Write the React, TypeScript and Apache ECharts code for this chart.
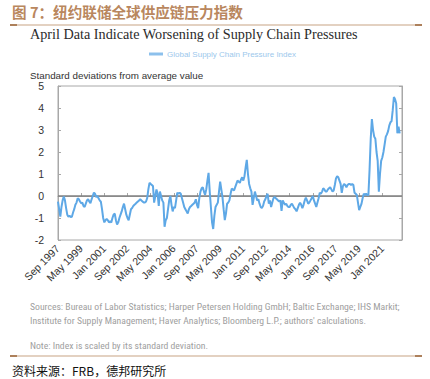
import React, { useEffect, useRef } from "react";
import * as echarts from "echarts";

// Monthly Global Supply Chain Pressure Index, Sep 1997 – Apr 2022
const values1997 = [-0.26, -0.6, -0.94, -0.5];
const values1998 = [-0.2, -0.03, -0.2, -0.55, -0.85, -0.94, -0.9, -0.95, -0.94, -0.75, -0.6, -0.4];
const values1999 = [-0.3, -0.1, -0.15, -0.25, -0.33, -0.3, -0.45, -0.5, -0.35, -0.2, -0.14, -0.25];
const values2000 = [-0.33, -0.15, 0.0, 0.15, 0.1, -0.05, 0.0, -0.1, -0.2, -0.26, -0.6, -1.0];
const values2001 = [-1.2, -1.1, -1.05, -1.1, -1.2, -1.15, -1.2, -1.0, -0.85, -0.8, -1.1, -1.3];
const values2002 = [-1.2, -1.0, -0.85, -0.7, -0.5, -0.35, -0.6, -0.85, -1.0, -1.1, -0.85, -0.6];
const values2003 = [-0.55, -0.45, -0.4, -0.35, -0.3, -0.25, -0.2, -0.15, -0.2, -0.25, -0.3, -0.3];
const values2004 = [-0.25, -0.1, 0.3, 0.6, 0.55, 0.5, 0.45, -0.3, 0.0, 0.3, 0.1, -0.45];
const values2005 = [0.2, 0.0, -0.2, -0.3, -1.4, -1.1, -1.0, -0.6, -0.2, 0.0, -0.4, -0.7];
const values2006 = [-0.5, -0.55, -0.2, 0.15, 0.1, 0.15, 0.1, -0.1, -0.3, -0.5, -0.6, -0.7];
const values2007 = [-0.8, -0.6, -0.5, -0.45, -0.4, -0.35, -0.3, -0.15, -0.4, -0.55, -0.1, 0.2];
const values2008 = [0.35, 0.4, 0.2, 0.05, 0.3, 0.7, 1.05, 0.2, -0.5, -1.2, -1.5, -0.9];
const values2009 = [-0.5, -0.4, -0.3, 0.2, 0.65, 0.3, -0.05, -0.6, -1.1, -0.8, -0.35, -0.3];
const values2010 = [-0.2, 0.1, 0.33, 0.3, 0.25, 0.4, 0.55, 0.7, 0.65, 0.6, 0.75, 0.85];
const values2011 = [0.7, 0.9, 1.3, 1.64, 1.0, 0.55, 0.35, 0.2, -0.4, -0.1, 0.2, 0.0];
const values2012 = [-0.2, -0.15, -0.35, -0.5, -0.55, -0.45, -0.25, -0.15, 0.0, 0.1, -0.35, -0.2];
const values2013 = [-0.5, -0.3, -0.1, -0.05, -0.1, -0.15, -0.2, -0.25, -0.2, -0.68, -0.2, -0.3];
const values2014 = [-0.4, -0.35, -0.45, -0.5, -0.5, -0.4, -0.35, -0.45, -0.55, -0.6, -0.7, -0.55];
const values2015 = [-0.4, -0.3, -0.4, -0.55, -0.4, -0.2, -0.07, -0.2, -0.35, -0.3, -0.2, -0.1];
const values2016 = [0.0, -0.2, -0.35, -0.5, -0.3, -0.1, 0.15, 0.1, 0.2, 0.35, 0.3, 0.2];
const values2017 = [0.2, 0.3, 0.35, 0.4, 0.3, 0.2, 0.25, 0.5, 0.8, 0.9, 0.85, 0.7];
const values2018 = [0.55, 0.14, 0.45, 0.55, 0.5, 0.4, 0.5, 0.55, 0.55, 0.5, 0.55, 0.5];
const values2019 = [0.15, 0.1, 0.05, -0.3, -0.64, -0.5, -0.36, -0.1, 0.1, 0.05, 0.1, 0.05];
const values2020 = [0.05, 1.2, 2.6, 3.5, 3.0, 2.7, 2.6, 2.0, 1.6, 0.2, 1.0, 1.6];
const values2021 = [1.75, 2.0, 2.35, 2.7, 2.8, 2.95, 3.2, 3.35, 3.4, 3.9, 4.5, 4.4];
const values2022 = [4.2, 2.85, 3.15, 2.85];

const gscpi: (number | null)[] = [
  ...values1997, ...values1998, ...values1999, ...values2000, ...values2001,
  ...values2002, ...values2003, ...values2004, ...values2005, ...values2006,
  ...values2007, ...values2008, ...values2009, ...values2010, ...values2011,
  ...values2012, ...values2013, ...values2014, ...values2015, ...values2016,
  ...values2017, ...values2018, ...values2019, ...values2020, ...values2021,
  ...values2022,
  null, null, // axis runs on to Jun 2022
];

const monthNames = ["Jan", "Feb", "Mar", "Apr", "May", "Jun", "Jul", "Aug", "Sep", "Oct", "Nov", "Dec"];
const startYear = 1997;
const startMonth = 8; // Sep
const categories: string[] = gscpi.map((_, i) => {
  const m = startMonth + i;
  return `${monthNames[m % 12]} ${startYear + Math.floor(m / 12)}`;
});

const yTicks = { min: -2, max: 5, interval: 1 };

const seriesName = "Global Supply Chain Pressure Index";
const figureTitle = "图 7：纽约联储全球供应链压力指数";
const chartTitle = "April Data Indicate Worsening of Supply Chain Pressures";
const yAxisTitle = "Standard deviations from average value";
const sources1 = "Sources: Bureau of Labor Statistics; Harper Petersen Holding GmbH; Baltic Exchange; IHS Markit;";
const sources2 = "Institute for Supply Management; Haver Analytics; Bloomberg L.P.; authors' calculations.";
const noteText = "Note: Index is scaled by its standard deviation.";
const sourceCn = "资料来源：FRB，德邦研究所";

const BROWN = "#b9875e";
const LINE_BLUE = "#5ea8e6";
const GREY_TXT = "#a0a0a0";
const SANS = "'Liberation Sans', Arial, sans-serif";
const NARROW = "'Liberation Sans Narrow', 'Roboto Condensed', Roboto, sans-serif";

export default function App() {
  const ref = useRef<HTMLDivElement>(null);
  useEffect(() => {
    if (!ref.current) return;
    const chart = echarts.init(ref.current, undefined, { renderer: "svg" });
    chart.setOption({
      animation: false,
      backgroundColor: "#ffffff",
      grid: {
        left: 58,
        right: 28,
        top: 86,
        bottom: 139,
        show: true,
        borderColor: "#a8a8a8",
        borderWidth: 1,
      },
      legend: {
        left: 144,
        top: 45,
        itemWidth: 14,
        itemHeight: 3,
        itemGap: 4,
        icon: "rect",
        data: [{ name: seriesName, itemStyle: { color: "#8cc0ec" } }],
        textStyle: { color: "#9cc8ec", fontSize: 8, fontFamily: SANS, padding: [0, 0, 0, -1] },
      },
      xAxis: {
        type: "category",
        data: categories,
        boundaryGap: false,
        axisLine: { lineStyle: { color: "#a8a8a8", width: 1 } },
        axisTick: { inside: true, length: 3, interval: 19, lineStyle: { color: "#a8a8a8" } },
        axisLabel: {
          interval: 19,
          rotate: 45,
          color: "#333",
          fontSize: 10.5,
          fontFamily: SANS,
          margin: 7,
        },
        splitLine: { show: false },
      },
      yAxis: [
        {
          type: "value",
          min: yTicks.min,
          max: yTicks.max,
          interval: yTicks.interval,
          axisLine: { show: true, lineStyle: { color: "#a8a8a8" } },
          axisTick: { show: true, inside: true, length: 3, lineStyle: { color: "#a8a8a8" } },
          axisLabel: { color: "#333", fontSize: 10.5, fontFamily: SANS, margin: 14 },
          splitLine: { show: false },
        },
        {
          type: "value",
          position: "right",
          min: yTicks.min,
          max: yTicks.max,
          interval: yTicks.interval,
          axisLine: { show: true, lineStyle: { color: "#a8a8a8" } },
          axisTick: { show: true, inside: true, length: 3, lineStyle: { color: "#a8a8a8" } },
          axisLabel: { show: false },
          splitLine: { show: false },
        },
      ],
      series: [
        {
          name: seriesName,
          type: "line",
          data: gscpi,
          yAxisIndex: 0,
          showSymbol: false,
          symbol: "none",
          lineStyle: { color: LINE_BLUE, width: 2 },
          itemStyle: { color: LINE_BLUE },
          z: 3,
          markLine: {
            silent: true,
            symbol: "none",
            label: { show: false },
            lineStyle: { color: "#808080", width: 1.6, type: "solid" },
            data: [{ yAxis: 0 }],
            z: 2,
          },
        },
      ],
      graphic: [
        {
          type: "text",
          x: 12,
          y: 11,
          style: {
            text: figureTitle,
            fill: BROWN,
            font: "bold 14.6px 'Noto Sans CJK SC', sans-serif",
            textVerticalAlign: "middle",
          },
        },
        { type: "line", shape: { x1: 10, y1: 25, x2: 422, y2: 25 }, style: { stroke: "#c7a383", lineWidth: 1.2 } },
        { type: "line", shape: { x1: 10, y1: 25, x2: 17, y2: 25 }, style: { stroke: "#a87650", lineWidth: 1.8 } },
        { type: "line", shape: { x1: 415, y1: 25, x2: 422, y2: 25 }, style: { stroke: "#a87650", lineWidth: 1.8 } },
        {
          type: "text",
          x: 30,
          y: 34,
          style: {
            text: chartTitle,
            fill: "#2b2b2b",
            font: "14.2px 'Liberation Serif', 'DejaVu Serif', serif",
            textVerticalAlign: "middle",
          },
        },
        {
          type: "text",
          x: 30,
          y: 75,
          style: {
            text: yAxisTitle,
            fill: "#333",
            font: `9.8px ${SANS}`,
            textVerticalAlign: "middle",
          },
        },
        {
          type: "text",
          x: 30,
          y: 306,
          style: { text: sources1, fill: GREY_TXT, font: `9.7px ${NARROW}`, textVerticalAlign: "middle" },
        },
        {
          type: "text",
          x: 30,
          y: 320,
          style: { text: sources2, fill: GREY_TXT, font: `9.7px ${NARROW}`, textVerticalAlign: "middle" },
        },
        {
          type: "text",
          x: 30,
          y: 345,
          style: { text: noteText, fill: GREY_TXT, font: `9.7px ${NARROW}`, textVerticalAlign: "middle" },
        },
        { type: "line", shape: { x1: 10, y1: 356, x2: 422, y2: 356 }, style: { stroke: "#c7a383", lineWidth: 1.2 } },
        { type: "line", shape: { x1: 10, y1: 356, x2: 17, y2: 356 }, style: { stroke: "#a87650", lineWidth: 1.8 } },
        { type: "line", shape: { x1: 415, y1: 356, x2: 422, y2: 356 }, style: { stroke: "#a87650", lineWidth: 1.8 } },
        {
          type: "text",
          x: 12,
          y: 370,
          style: {
            text: sourceCn,
            fill: "#111",
            font: "12px 'Noto Sans CJK SC', sans-serif",
            textVerticalAlign: "middle",
          },
        },
      ],
    });
    return () => chart.dispose();
  }, []);
  return (
    <div
      ref={ref}
      style={{ position: "fixed", left: 0, top: 0, width: 430, height: 379, background: "#fff" }}
    />
  );
}
